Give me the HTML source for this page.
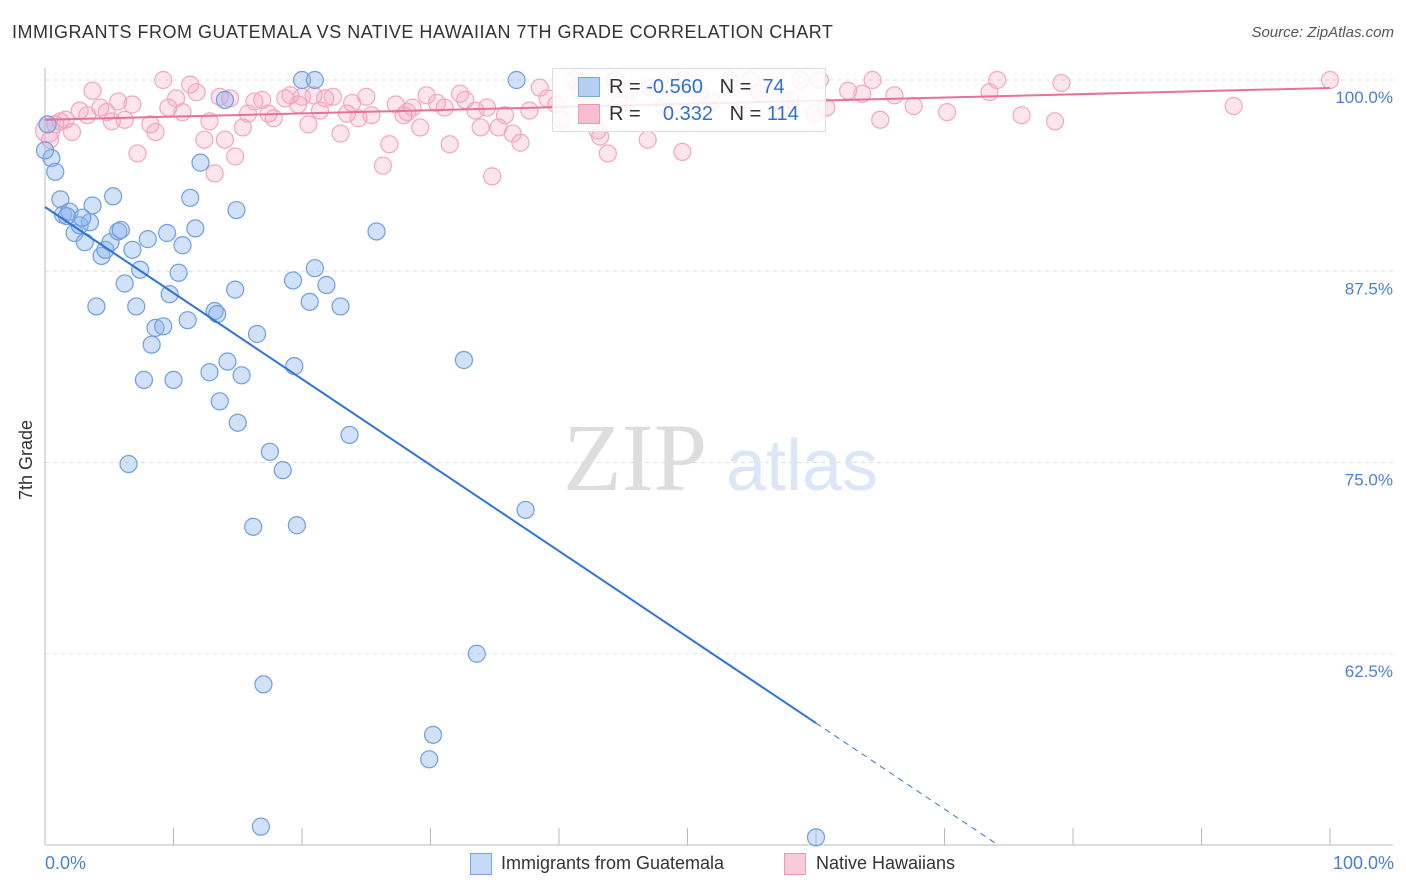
<!DOCTYPE html>
<html><head><meta charset="utf-8">
<style>
body{margin:0;background:#fff;font-family:"Liberation Sans",sans-serif;}
#wrap{position:relative;width:1406px;height:892px;overflow:hidden;}
.t{position:absolute;white-space:nowrap;}
</style></head>
<body>
<div id="wrap">
<div class="t" style="left:12px;top:22px;font-size:18px;color:#333;letter-spacing:0.5px">IMMIGRANTS FROM GUATEMALA VS NATIVE HAWAIIAN 7TH GRADE CORRELATION CHART</div>
<div class="t" style="right:12px;top:24px;font-size:15px;color:#555;font-style:italic">Source: ZipAtlas.com</div>
<svg id="svg" width="1406" height="892" style="position:absolute;left:0;top:0"></svg>
</div>
<script>
const blueX=[0.2,0.5,0.8,1.2,1.4,1.9,2.3,2.7,3.1,3.5,3.7,4.0,4.4,4.7,5.1,5.3,5.7,5.9,6.2,6.5,6.8,7.1,7.4,7.7,8.0,8.3,8.6,9.2,9.5,9.7,10.0,10.4,10.7,11.1,11.3,11.7,12.1,12.8,13.2,13.4,13.6,14.0,14.2,14.8,14.9,15.0,15.3,16.2,16.5,17.0,16.8,17.5,18.5,19.3,19.4,19.6,20.0,20.6,21.0,21.0,21.9,23.0,23.7,25.8,32.6,33.6,36.7,37.4,30.2,29.9,60.0,1.7,2.9,0];
const blueY=[97.1,94.9,94.0,92.2,91.2,91.4,90.0,90.5,89.4,90.7,91.8,85.2,88.5,88.9,89.4,92.4,90.1,90.2,86.7,74.9,88.9,85.2,87.6,80.4,89.6,82.7,83.8,83.9,90.0,86.0,80.4,87.4,89.2,84.3,92.3,90.3,94.6,80.9,84.9,84.7,79.0,98.7,81.6,86.3,91.5,77.6,80.7,70.8,83.4,60.5,51.2,75.7,74.5,86.9,81.3,70.9,100,85.5,100,87.7,86.6,85.2,76.8,90.1,81.7,62.5,100,71.9,57.2,55.6,50.5,91.1,91.0,95.4];
const pinkX=[0.2,0.4,0.8,1.2,1.6,2.1,2.7,3.3,3.7,4.3,4.8,5.2,5.7,6.2,6.8,7.2,8.2,8.6,9.2,9.6,10.2,10.7,11.3,11.8,12.4,12.8,13.2,13.6,14.0,14.4,14.8,15.4,15.8,16.3,16.9,17.4,17.8,18.7,19.1,19.7,20.0,20.5,20.9,21.4,21.8,22.4,23.0,23.5,23.9,24.4,25.0,25.4,26.3,26.8,27.3,27.9,28.2,28.6,29.2,29.7,30.5,31.1,31.5,32.3,32.7,33.5,33.9,34.4,34.8,35.3,35.8,36.4,37.0,37.7,38.5,39.1,39.8,40.2,41.2,41.6,43.0,43.2,43.8,44.4,45.5,46.9,48.2,49.6,51.0,53.3,55.6,58.8,59.9,60.3,60.8,62.5,63.6,64.4,65.0,66.1,67.6,70.2,73.5,74.1,76.0,78.6,79.1,92.5,100,44.7,47.1,49.8,54.9,58.0,51.9];
const pinkY=[96.7,96.1,97.1,97.3,97.4,96.6,98.0,97.7,99.3,98.2,97.9,97.3,98.6,97.4,98.4,95.2,97.1,96.6,100,98.2,98.8,97.9,99.7,99.2,96.1,97.3,93.9,98.9,96.1,98.8,95.0,96.9,97.8,98.6,98.7,97.8,97.5,98.8,99.0,98.4,98.9,97.1,99.0,98.0,98.8,98.9,96.5,97.8,98.5,97.5,98.9,97.7,94.4,95.8,98.4,97.7,97.9,98.2,96.9,99.0,98.5,98.2,95.8,99.1,98.7,98.0,96.9,98.2,93.7,96.9,97.7,96.5,95.9,98.0,99.5,98.8,98.4,97.4,100,99.3,96.7,96.3,95.2,100,99.3,96.1,98.2,95.3,99.0,100,99.2,100,97.8,100,98.2,99.3,99.1,100,97.4,99.0,98.3,97.9,99.2,100,97.7,97.3,99.8,98.3,100,98.4,99.5,100,100,98.7,98.6];
const blueTrend=[91.7,-0.5622];  // intercept, slope
const pinkTrend=[97.4,0.0208];
const yTicks=[100,87.5,75,62.5];
const yTickLabels=["100.0%","87.5%","75.0%","62.5%"];
const xTicks=[0,10,20,30,40,50,60,70,80,90,100];

const NS="http://www.w3.org/2000/svg";
const svg=document.getElementById('svg');
const sx=v=>45+v*12.85;
const sy=v=>80+(100-v)*15.3;
function mk(tag,attrs,parent){const e=document.createElementNS(NS,tag);for(const k in attrs)e.setAttribute(k,attrs[k]);(parent||svg).appendChild(e);return e;}

yTicks.forEach((v,i)=>{
  const g=mk('line',{x1:45,x2:1393,y1:sy(v),y2:sy(v),stroke:'#ddd','stroke-dasharray':'4,4'});
  
  
  const t=mk('text',{x:1393,y:sy(v)+23,'text-anchor':'end','font-size':17,fill:'#4a7fd6','font-family':'Liberation Sans'});
  t.textContent=yTickLabels[i];
  
  
});
const ax=mk('line',{x1:45,x2:1393,y1:845,y2:845,stroke:'#bbb'});


const ay=mk('line',{x1:45,x2:45,y1:68,y2:845,stroke:'#bbb'});


xTicks.forEach(v=>{
  const tk=mk('line',{x1:sx(v),x2:sx(v),y1:828,y2:845,stroke:'#bbb'});
  
  
});
const wm=mk('text',{x:635,y:490,'text-anchor':'middle','font-size':96,fill:'#ddd','font-family':'Liberation Serif'});
wm.textContent='ZIP';


const wm2=mk('text',{x:802,y:490,'text-anchor':'middle','font-size':72,fill:'#dbe6f6','font-family':'Liberation Sans'});
wm2.textContent='atlas';



pinkX.forEach((x,i)=>{
  const c=mk('circle',{cx:sx(x),cy:sy(pinkY[i]),r:(i===0?12:8.5),fill:'rgba(244,160,190,0.28)',stroke:'#f2a6c0','stroke-width':1.2});
  
  
});
blueX.forEach((x,i)=>{
  const c=mk('circle',{cx:sx(x),cy:sy(blueY[i]),r:8.5,fill:'rgba(140,180,235,0.4)',stroke:'#6f9ee0','stroke-width':1.2});
  
  
});
const bl=v=>blueTrend[0]+blueTrend[1]*v;
const b1=mk('line',{x1:sx(0),y1:sy(bl(0)),x2:sx(60),y2:sy(bl(60)),stroke:'#2f73d8','stroke-width':2});


const xEnd=(50-blueTrend[0])/blueTrend[1];
const b2=mk('line',{x1:sx(60),y1:sy(bl(60)),x2:sx(xEnd),y2:sy(50),stroke:'#2f73d8','stroke-width':1,'stroke-dasharray':'6,5'});


const pl=v=>pinkTrend[0]+pinkTrend[1]*v;
const p1=mk('line',{x1:sx(0),y1:sy(pl(0)),x2:sx(100),y2:sy(pl(100)),stroke:'#e8719a','stroke-width':2});


</script>

<div class="t" style="left:552px;top:68px;width:272px;height:62px;border:1px solid #ddd;background:rgba(255,255,255,0.85)">
  <div style="position:absolute;left:25px;top:8px;width:20px;height:18px;background:#b5cff3;border:1px solid #7aa6e6"></div>
  <div style="position:absolute;left:25px;top:35px;width:20px;height:18px;background:#f7bdd0;border:1px solid #ee98b6"></div>
  <div class="t" style="left:56px;top:7px;font-size:20px;color:#333">R = <span style="color:#2f6fd6">-0.560</span>&nbsp;&nbsp;&nbsp;N = &nbsp;<span style="color:#2f6fd6">74</span></div>
  <div class="t" style="left:56px;top:34px;font-size:20px;color:#333">R = &nbsp;&nbsp;&nbsp;<span style="color:#2f6fd6">0.332</span>&nbsp;&nbsp;&nbsp;N = <span style="color:#2f6fd6">114</span></div>
</div>

<div class="t" style="left:16px;top:500px;transform:rotate(-90deg);transform-origin:left top;font-size:18px;color:#333">7th Grade</div>
<div class="t" style="left:45px;top:853px;font-size:18px;color:#4a7fd6">0.0%</div>
<div class="t" style="right:12px;top:853px;font-size:18px;color:#4a7fd6">100.0%</div>

<div class="t" style="left:470px;top:853px;width:20px;height:20px;background:#c5daf6;border:1px solid #7aa6e6"></div>
<div class="t" style="left:501px;top:853px;font-size:18px;color:#333">Immigrants from Guatemala</div>
<div class="t" style="left:784px;top:853px;width:20px;height:20px;background:#f9cad9;border:1px solid #ee98b6"></div>
<div class="t" style="left:816px;top:853px;font-size:18px;color:#333">Native Hawaiians</div>
</body></html>
